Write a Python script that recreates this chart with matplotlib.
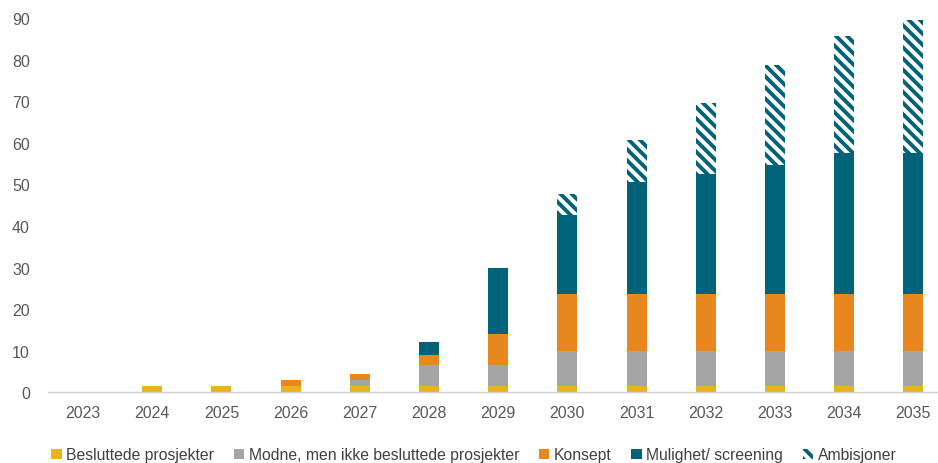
import matplotlib
matplotlib.use("Agg")
import matplotlib.pyplot as plt
import numpy as np
from matplotlib.patches import Patch

years = ["2023", "2024", "2025", "2026", "2027", "2028", "2029",
         "2030", "2031", "2032", "2033", "2034", "2035"]
besluttede = [0, 1.5, 1.5, 1.5, 1.5, 1.5, 1.5, 1.5, 1.5, 1.5, 1.5, 1.5, 1.5]
modne =      [0, 0, 0, 0, 1.5, 5.0, 5.0, 8.5, 8.5, 8.5, 8.5, 8.5, 8.5]
konsept =    [0, 0, 0, 1.4, 1.3, 2.5, 7.5, 13.6, 13.6, 13.6, 13.6, 13.6, 13.6]
mulighet =   [0, 0, 0, 0, 0, 3.0, 16.0, 19.0, 27.0, 29.0, 31.0, 34.0, 34.0]
ambisjoner = [0, 0, 0, 0, 0, 0, 0, 5.0, 10.0, 17.0, 24.0, 28.0, 32.0]

labels = ["Besluttede prosjekter", "Modne, men ikke besluttede prosjekter",
          "Konsept", "Mulighet/ screening", "Ambisjoner"]
colors = ["#E9B31E", "#A5A5A5", "#E8871E", "#00637A", "#00637A"]

plt.rcParams['font.family'] = ['Liberation Sans', 'DejaVu Sans']
plt.rcParams['hatch.linewidth'] = 2.8
plt.rcParams['hatch.color'] = "#00637A"
HATCH = "\\" * 3

fig = plt.figure(figsize=(9.38, 4.64), dpi=100)
W, H = 938, 464
ax = fig.add_axes([48 / W, (H - 393.3) / H, (938 - 48) / W, (393.3 - 19) / H])

x = np.arange(len(years))
width = 0.29
bottom = np.zeros(len(years))
series = [besluttede, modne, konsept, mulighet]
for vals, col in zip(series, colors[:4]):
    ax.bar(x, vals, width, bottom=bottom, color=col, edgecolor="none")
    bottom += np.array(vals)
ax.bar(x, ambisjoner, width, bottom=bottom, color="white",
       edgecolor="#00637A", hatch=HATCH, linewidth=0)

ax.set_xlim(-0.506, -0.506 + 890 / 69.2)
ax.set_ylim(0, 90)
ax.set_yticks(np.arange(0, 91, 10))
ax.set_xticks(x)
ax.set_xticklabels(years)
ax.tick_params(axis="both", length=0, labelsize=11.5, labelcolor="#595959")
ax.tick_params(axis="x", pad=9)
ax.tick_params(axis="y", pad=13)
for s in ["top", "right", "left"]:
    ax.spines[s].set_visible(False)
ax.spines["bottom"].set_color("#D0D0D0")
ax.spines["bottom"].set_linewidth(1.0)

handles = [Patch(facecolor=c, edgecolor="none") for c in colors[:4]]
handles.append(Patch(facecolor="white", edgecolor="#00637A", hatch=HATCH, linewidth=0))
fig.legend(handles, labels, loc="center", bbox_to_anchor=(474 / W, 1 - 456 / H),
           ncol=5, frameon=False, fontsize=11.3, handlelength=0.65, handleheight=0.65,
           handletextpad=0.3, columnspacing=1.25, labelcolor="#404040")

fig.savefig("out.png", dpi=100)
